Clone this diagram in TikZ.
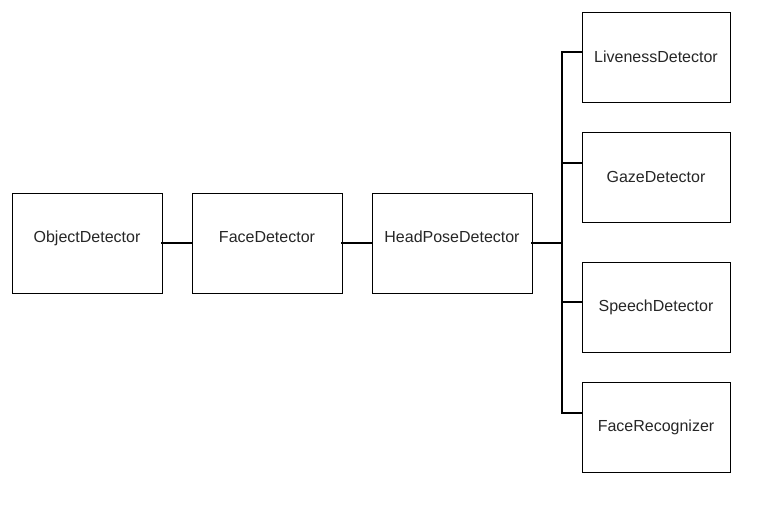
\documentclass[tikz,border=0pt]{standalone}
\usepackage{fontspec}
\setmainfont{Liberation Sans}
\begin{document}
\begin{tikzpicture}[x=1pt, y=-1pt,
  box/.style={draw, line width=1pt, inner sep=0pt, minimum height=100pt, minimum width=150pt, font=\fontsize{16}{19}\selectfont, text=black!85},
  mainbox/.style={box, text height=11.5pt, text depth=13pt},
  sidebox/.style={box, minimum height=90pt, minimum width=148pt},
  link/.style={line width=2.5pt, line cap=rect}]
\useasboundingbox (0,0) rectangle (780,522);
\node[mainbox] (obj) at (87,243) {ObjectDetector};
\node[mainbox] (face) at (267,243) {FaceDetector};
\node[mainbox, minimum width=160pt] (head) at (452,243) {HeadPoseDetector};
\node[sidebox] (live) at (656,57) {LivenessDetector};
\node[sidebox] (gaze) at (656,177) {GazeDetector};
\node[sidebox] (speech) at (656,307) {SpeechDetector};
\node[sidebox] (facerec) at (656,427) {FaceRecognizer};
\coordinate (b1) at (562,52);
\coordinate (b2) at (562,163);
\coordinate (b3) at (562,302);
\coordinate (b4) at (562,413);
\draw[link] (obj.east) -- (face.west);
\draw[link] (face.east) -- (head.west);
\draw[link] (head.east) -- (head.east -| b1);
\draw[link] (b1) -- (b4);
\draw[link] (b1) -- (b1 -| live.west);
\draw[link] (b2) -- (b2 -| gaze.west);
\draw[link] (b3) -- (b3 -| speech.west);
\draw[link] (b4) -- (b4 -| facerec.west);
\end{tikzpicture}
\end{document}
